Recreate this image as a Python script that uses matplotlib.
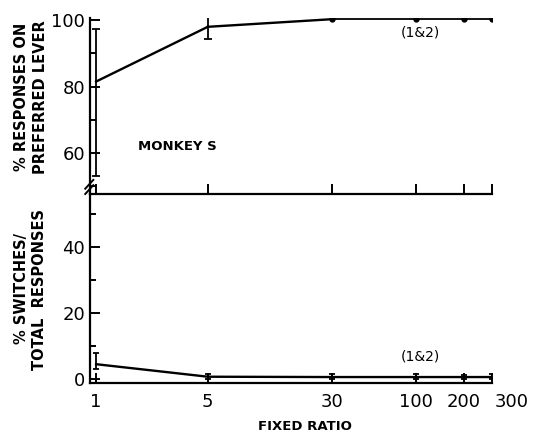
import matplotlib.pyplot as plt
from matplotlib.ticker import NullLocator, FixedLocator
from matplotlib.transforms import ScaledTranslation

# values (monkey S)
ratios = [1, 5, 30, 100, 200, 300]
ratio_labels = ["1", "5", "30", "100", "200", "300"]

pref_mean = [81.5, 98.0, 100.3, 100.3, 100.3, 100.3]
pref_low = [53.0, 94.2, 100.3, 100.3, 100.3, 100.3]
pref_high = [97.3, 101.0, 100.3, 100.3, 100.3, 100.3]

switch_mean = [4.5, 0.7, 0.6, 0.6, 0.6, 0.6]
switch_low = [3.0, 0.0, 0.0, 0.0, 0.0, 0.0]
switch_high = [8.0, 1.4, 1.5, 1.5, 1.3, 1.5]

plt.rcParams["font.family"] = "DejaVu Sans"

fig = plt.figure(figsize=(5.33, 4.33), dpi=100)
ax1 = fig.add_axes([0.169, 0.552, 0.754, 0.406])
ax2 = fig.add_axes([0.169, 0.1155, 0.754, 0.4365])

lw = 1.7

# top panel
err1 = [[m - l for m, l in zip(pref_mean, pref_low)],
        [h - m for m, h in zip(pref_mean, pref_high)]]
ax1.errorbar(ratios[:2], pref_mean[:2],
             yerr=[err1[0][:2], err1[1][:2]],
             color="black", lw=lw, capsize=3, elinewidth=1.3, capthick=1.3)
ax1.plot(ratios[1:3], pref_mean[1:3], color="black", lw=lw)
ax1.plot(ratios[2:], pref_mean[2:], color="black", lw=1.3,
         marker="o", ms=3.5)
ax1.set_ylim(47.6, 100.6)
ax1.yaxis.set_major_locator(FixedLocator([60, 80, 100]))
ax1.yaxis.set_minor_locator(FixedLocator([50, 70, 90]))

# bottom panel
err2 = [[m - l for m, l in zip(switch_mean, switch_low)],
        [h - m for m, h in zip(switch_mean, switch_high)]]
ax2.errorbar(ratios, switch_mean, yerr=err2, color="black", lw=lw,
             capsize=2.5, elinewidth=1.3, capthick=1.3)
ax2.set_ylim(-1.2, 56.1)
ax2.yaxis.set_major_locator(FixedLocator([0, 20, 40]))
ax2.yaxis.set_minor_locator(FixedLocator([10, 30, 50]))

for ax in (ax1, ax2):
    ax.set_xscale("log")
    ax.set_xlim(0.917, 300)
    ax.set_xticks(ratios)
    ax.xaxis.set_minor_locator(NullLocator())
    for s in ("top", "right"):
        ax.spines[s].set_visible(False)
    for s in ("left", "bottom"):
        ax.spines[s].set_linewidth(1.6)
    ax.tick_params(axis="both", which="major", direction="in", length=7,
                   width=1.4, labelsize=13)
    ax.tick_params(axis="both", which="minor", direction="in", length=4,
                   width=1.4)
    ax.patch.set_alpha(0)

ax1.set_xticklabels([])
ax2.set_xticklabels(ratio_labels)
ax2.tick_params(axis="x", pad=7)
# the last label sits a little to the right in the original
last = ax2.get_xticklabels()[-1]
last.set_transform(last.get_transform()
                   + ScaledTranslation(14 / 72, 0, fig.dpi_scale_trans))

# axis break mark on the top panel
for dy in (0.0, 0.03):
    ax1.plot([-0.012, 0.008], [0.0 + dy, 0.05 + dy], transform=ax1.transAxes,
             color="black", lw=1.4, clip_on=False)

ax1.text(177, 433 - 147, "MONKEY S", transform=None, fontsize=9.5,
         fontweight="bold", ha="center", va="center")
ax1.text(420, 433 - 33, "(1&2)", transform=None, fontsize=10,
         ha="center", va="center")
ax2.text(420, 433 - 357, "(1&2)", transform=None, fontsize=10,
         ha="center", va="center")

fig.text(31 / 533, 1 - 97 / 433, "% RESPONSES ON\nPREFERRED LEVER",
         rotation=90, ha="center", va="center", fontsize=10.5,
         fontweight="bold", linespacing=1.3)
fig.text(22 / 533, 1 - 289 / 433, "% SWITCHES/",
         rotation=90, ha="center", va="center", fontsize=10.5,
         fontweight="bold")
fig.text(40 / 533, 1 - 290 / 433, "TOTAL  RESPONSES",
         rotation=90, ha="center", va="center", fontsize=10.5,
         fontweight="bold")
fig.text(305 / 533, 1 - 427 / 433, "FIXED RATIO", ha="center", va="center",
         fontsize=9.5, fontweight="bold")

fig.savefig("out.png", dpi=100)
